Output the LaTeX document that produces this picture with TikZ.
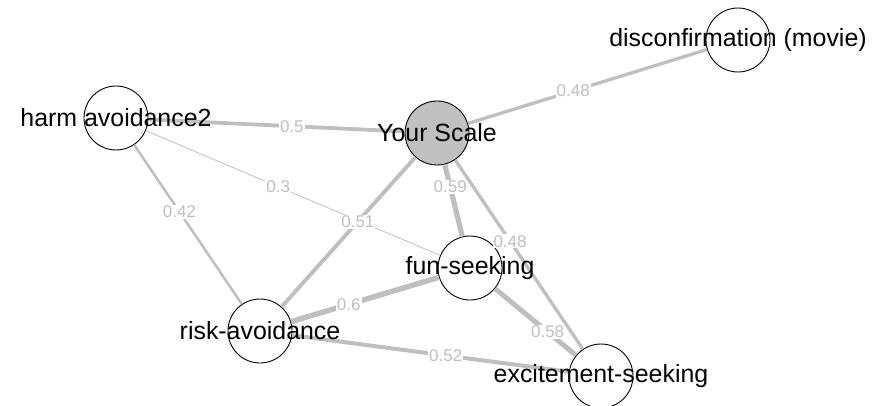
\documentclass[tikz,border=0pt]{standalone}
\usepackage{fontspec}
\setmainfont{Liberation Sans}
\usepackage{xcolor}
\usepackage{tikz}

\definecolor{edgegray}{RGB}{191,191,191}
\definecolor{scalegray}{RGB}{192,192,192}

\tikzset{
  item/.style = {circle, draw = black, line width = 0.9pt, fill = white,
                 minimum size = 64pt, inner sep = 0pt},
  itemtext/.style = {font = \fontsize{24.9}{28}\selectfont, inner sep = 0pt},
  edge/.style = {draw = edgegray},
  elabel/.style = {fill = white, text = edgegray, inner sep = 1pt,
                   font = \fontsize{17}{20}\selectfont},
}

\begin{document}
\begin{tikzpicture}[x = 1pt, y = -1pt]
  \useasboundingbox (0,0) rectangle (880,406);

  \node[item] (harm) at (116,118) {};
  \node[item, fill = scalegray] (scale) at (437,133) {};
  \node[item] (disc) at (738,40) {};
  \node[item] (fun) at (470,268) {};
  \node[item] (risk) at (260,331) {};
  \node[item] (excite) at (601,376) {};

  \draw[edge, line width = 3.8pt] (harm) -- node[elabel, pos = 0.56] {0.5} (scale);
  \draw[edge, line width = 0.8pt] (harm) -- node[elabel, pos = 0.45] {0.3} (fun);
  \draw[edge, line width = 2.5pt] (harm) -- node[elabel, pos = 0.42] {0.42} (risk);
  \draw[edge, line width = 3.3pt] (scale) -- node[elabel, pos = 0.44] {0.48} (disc);
  \draw[edge, line width = 5.2pt] (scale) -- node[elabel, pos = 0.31] {0.59} (fun);
  \draw[edge, line width = 3.9pt] (scale) -- node[elabel, pos = 0.43] {0.51} (risk);
  \draw[edge, line width = 3.3pt] (scale) -- node[elabel, pos = 0.43] {0.48} (excite);
  \draw[edge, line width = 5.4pt] (risk) -- node[elabel, pos = 0.39] {0.6} (fun);
  \draw[edge, line width = 5.0pt] (fun) -- node[elabel, pos = 0.65] {0.58} (excite);
  \draw[edge, line width = 4.0pt] (risk) -- node[elabel, pos = 0.555] {0.52} (excite);

  % names on top of the edges
  \node[itemtext] (harmtext) at (harm) {harm avoidance2};
  \node[itemtext] (scaletext) at (scale) {Your Scale};
  \node[itemtext] (disctext) at (disc) {disconfirmation (movie)};
  \node[itemtext] (funtext) at (fun) {fun-seeking};
  \node[itemtext] (risktext) at (risk) {risk-avoidance};
  \node[itemtext] (excitetext) at (excite) {excitement-seeking};
\end{tikzpicture}
\end{document}
